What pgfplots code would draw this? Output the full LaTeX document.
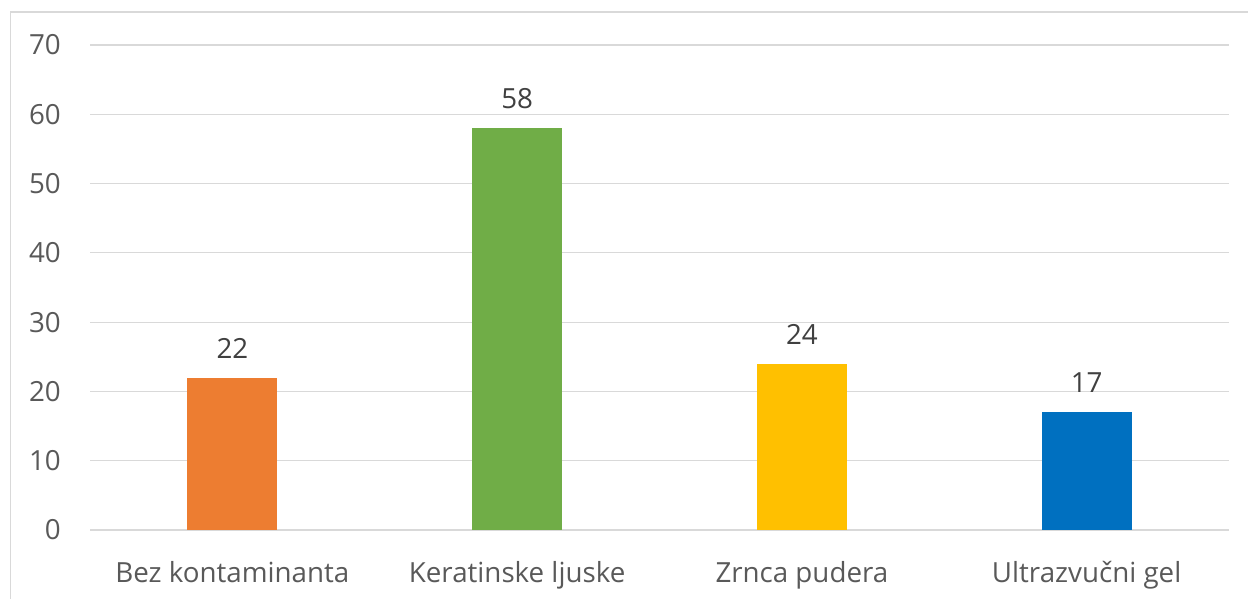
\documentclass[border=0pt]{standalone}
\usepackage{pgfplots}
\pgfplotsset{compat=1.18}
\usepackage{fontspec}
\setmainfont{Open Sans}
\definecolor{gridgray}{HTML}{D9D9D9}
\definecolor{ticktext}{HTML}{595959}
\definecolor{labtext}{HTML}{404040}
\definecolor{c1}{HTML}{ED7D31}
\definecolor{c2}{HTML}{70AD47}
\definecolor{c3}{HTML}{FFC000}
\definecolor{c4}{HTML}{0070C0}
\begin{document}
\begin{tikzpicture}
\useasboundingbox (0,0) rectangle (936pt,449.25pt);
\draw[gridgray, line width=1.1pt] (7.9pt,-1pt) -- (7.9pt,440.25pt) -- (937pt,440.25pt);
\begin{axis}[
  at={(67.5pt,51.75pt)}, anchor=south west,
  scale only axis, width=854.25pt, height=363.75pt,
  xmin=-0.5, xmax=3.5, ymin=0, ymax=70,
  ytick={0,10,...,70},
  xtick={0,1,2,3},
  xticklabels={Bez kontaminanta, Keratinske ljuske, Zrnca pudera, Ultrazvučni gel},
  axis line style={draw=none},
  major tick length=0pt,
  ymajorgrids,
  grid style={gridgray, line width=0.9pt},
  /pgf/number format/assume math mode=true,
  tick label style={font=\fontsize{20.8pt}{26pt}\selectfont, text=ticktext},
  yticklabel style={inner sep=0pt, anchor=east, xshift=-21.75pt},
  xticklabel style={inner sep=0pt, anchor=base, yshift=-39pt},
  ybar, bar width=67.5pt, bar shift=0pt,
  clip=false,
  nodes near coords,
  every node near coord/.append style={font=\fontsize{20.8pt}{26pt}\selectfont, text=labtext, anchor=base, inner sep=0pt, yshift=14.6pt},
]
\addplot[fill=c1, draw=none] coordinates {(0,22)};
\addplot[fill=c2, draw=none] coordinates {(1,58)};
\addplot[fill=c3, draw=none] coordinates {(2,24)};
\addplot[fill=c4, draw=none] coordinates {(3,17)};
\end{axis}
\end{tikzpicture}
\end{document}
